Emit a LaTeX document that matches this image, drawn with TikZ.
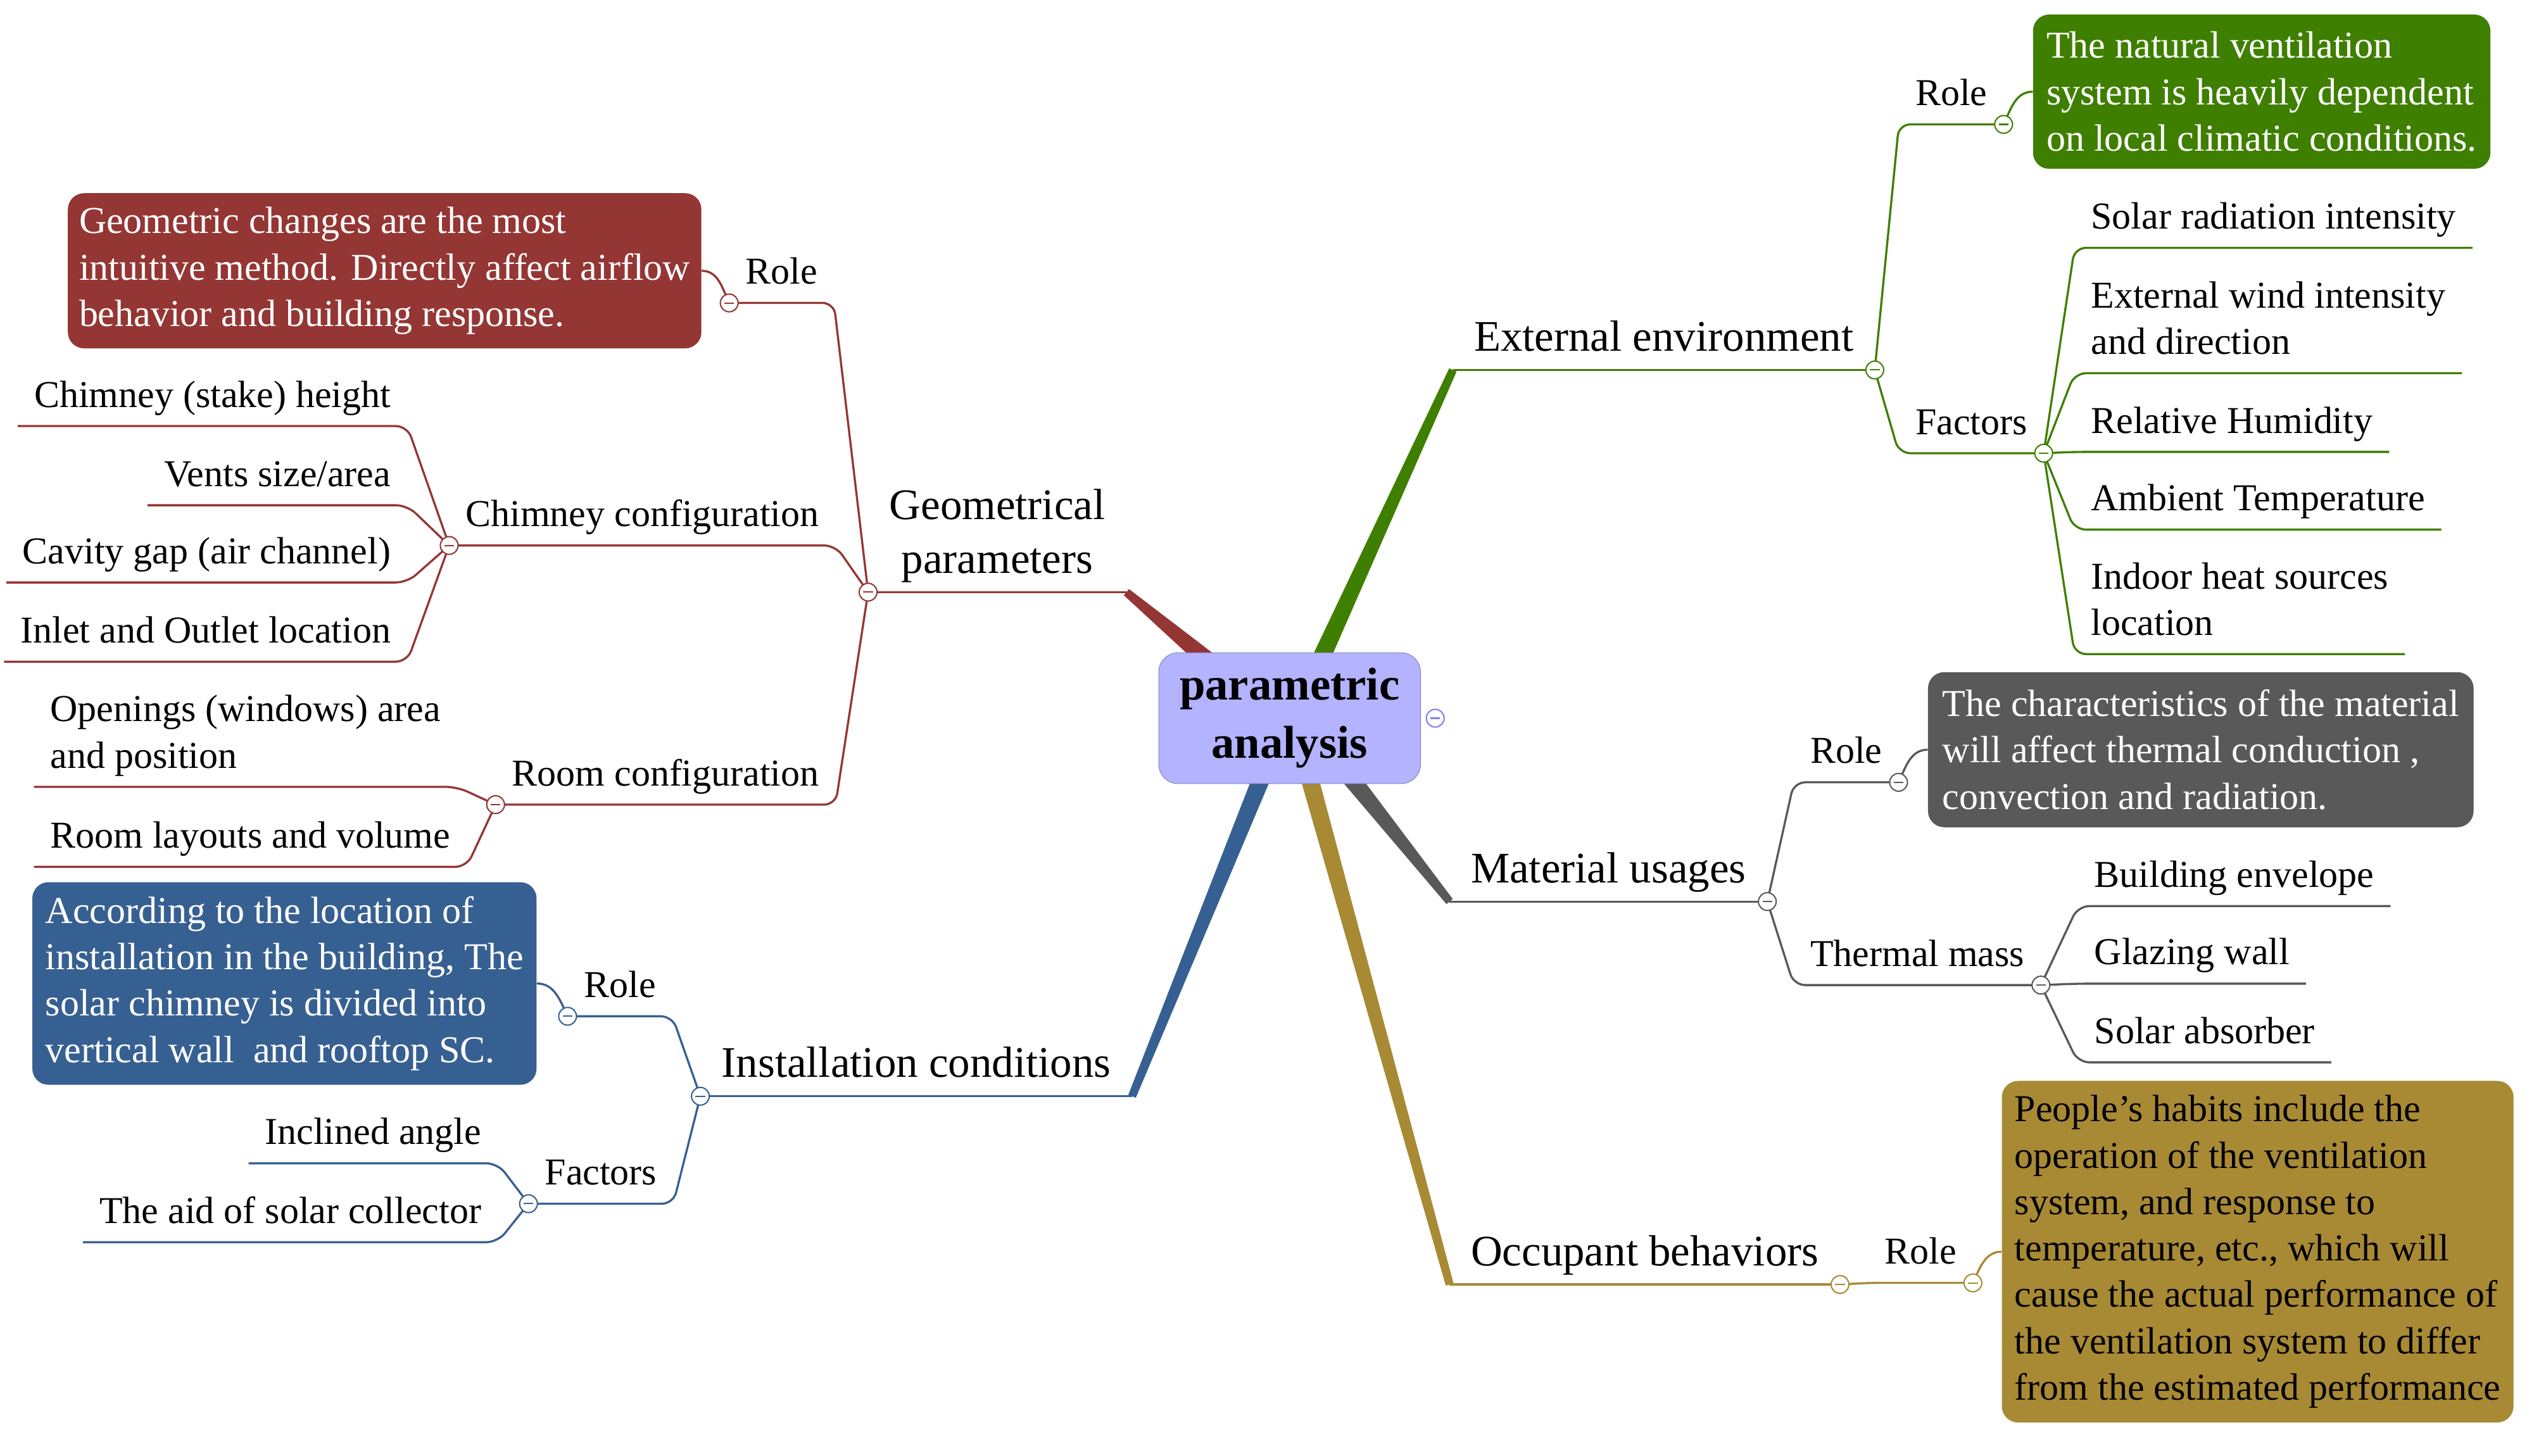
\documentclass[tikz,border=0pt]{standalone}
\usepackage{fontspec}
\setmainfont{Liberation Serif}
\usetikzlibrary{positioning,calc}

\definecolor{geoC}{HTML}{943634}
\definecolor{extC}{HTML}{3F7F00}
\definecolor{matC}{HTML}{595959}
\definecolor{occC}{HTML}{A88A34}
\definecolor{insC}{HTML}{376092}
\definecolor{hubC}{HTML}{B3B3FF}
\newcommand{\ulgap}{\rule[-11.5pt]{0pt}{11.5pt}}

\begin{document}
\begin{tikzpicture}[x=1pt, y=-1pt,
  hub/.style={draw=hubC!75!black, fill=hubC, rounded corners=12pt, minimum width=162pt, minimum height=81pt, align=center, font=\fontsize{28.5}{36}\selectfont\bfseries},
  main/.style={inner xsep=13pt, inner ysep=0pt, align=center, font=\fontsize{27}{33.5}\selectfont, execute at end node=\ulgap},
  topic/.style={inner xsep=10pt, inner ysep=0pt, align=left, font=\fontsize{23.5}{28.7}\selectfont, execute at end node=\ulgap},
  note/.style={fill=#1, text=white, rounded corners=10pt, inner sep=0pt, align=left, font=\fontsize{23.5}{28.7}\selectfont},
  ln/.style={draw=#1, line width=1.3pt, rounded corners=7pt},
  knob/.style={circle, draw=#1, fill=white, line width=0.8pt, minimum size=11pt, inner sep=0pt,
    path picture={\draw[draw=#1, line width=0.8pt] ([xshift=-3pt]path picture bounding box.center) -- ([xshift=3pt]path picture bounding box.center);}}]
\useasboundingbox (0,0) rectangle (1568,901);

% main branches
\coordinate (c) at (798,444.5);
\node[main, anchor=south east] (geo) at (697,366.5) {Geometrical\\parameters};
\node[main, anchor=south east] (ins) at (700.5,678.5) {Installation conditions};
\node[main, anchor=south west] (ext) at (899,229) {External environment};
\node[main, anchor=south west] (mat) at (897,558) {Material usages};
\node[main, anchor=south west] (occ) at (897,795) {Occupant behaviors};
\coordinate (geoS) at ($(c)+(-51,-36)$);
\coordinate (extS) at ($(c)+(19,-36)$);
\coordinate (insS) at ($(c)+(-17,36)$);
\coordinate (occS) at ($(c)+(12,36)$);
\coordinate (matS) at ($(c)+(37,36)$);
\foreach \s/\e/\col in {geoS/geo.south east/geoC, insS/ins.south east/insC, extS/ext.south west/extC, matS/mat.south west/matC, occS/occ.south west/occC}
  \fill[fill=\col] ($(\s)!5.5pt!90:(\e)$) -- ($(\e)!2.5pt!-90:(\s)$) -- ($(\e)!2.5pt!90:(\s)$) -- ($(\s)!5.5pt!-90:(\e)$) -- cycle;
\foreach \n/\col in {geo/geoC, ins/insC, ext/extC, mat/matC, occ/occC}
  \draw[ln=\col] (\n.south west) -- (\n.south east);
\node[hub] (hub) at (c) {parametric\\analysis};
\node[knob=hubC!70!blue, right=3pt of hub] (hubK) {};

% geometrical parameters
\node[topic, anchor=south east] (geoRole) at (516,187.5) {Role};
\node[topic, anchor=south east] (geoChim) at (517,337.6) {Chimney configuration};
\node[topic, anchor=south east] (geoRoom) at (517,498) {Room configuration};
\foreach \n in {geoRole, geoChim, geoRoom}
  \draw[ln=geoC] (geo.south west) -- (\n.south east) -- (\n.south west);
\node[note=geoC, minimum width=392pt, minimum height=96pt] (geoNote) at (238,167.6) {Geometric changes are the most\\intuitive method. Directly affect airflow\\behavior and building response.};
\draw[ln=geoC] (geoRole.south west) to[out=115, in=0] (geoNote.east);
\foreach \n/\y/\t in {ch1/263.7/{Chimney (stake) height}, ch2/312.7/{Vents size/area}, ch3/360.5/{Cavity gap (air channel)}, ch4/409.5/{Inlet and Outlet location}} {
  \node[topic, anchor=south east] (\n) at (252,\y) {\t};
  \draw[ln=geoC] (geoChim.south west) -- (\n.south east) -- (\n.south west);
}
\node[topic, anchor=south west] (rm1) at (21,487) {Openings (windows) area\\and position};
\node[topic, anchor=south west] (rm2) at (21,536.5) {Room layouts and volume};
\foreach \n in {rm1, rm2}
  \draw[ln=geoC] (geoRoom.south west) -- (\n.south east) -- (\n.south west);

% installation conditions
\node[topic, anchor=south east] (insRole) at (416,629) {Role};
\node[topic, anchor=south east] (insFac) at (416.6,745) {Factors};
\foreach \n in {insRole, insFac}
  \draw[ln=insC] (ins.south west) -- (\n.south east) -- (\n.south west);
\node[note=insC, minimum width=312pt, minimum height=125.4pt] (insNote) at (176,608.7) {According to the location of\\installation in the building, The\\solar chimney is divided into\\vertical wall\ \ and rooftop SC.};
\draw[ln=insC] (insRole.south west) to[out=115, in=0] (insNote.east);
\node[topic, anchor=south east] (fa1) at (308,720) {Inclined angle};
\node[topic, anchor=south east] (fa2) at (308,768.8) {The aid of solar collector};
\foreach \n in {fa1, fa2}
  \draw[ln=insC] (insFac.south west) -- (\n.south east) -- (\n.south west);

% external environment
\node[topic, anchor=south west] (extRole) at (1175,77) {Role};
\node[topic, anchor=south west] (extFac) at (1175,280.5) {Factors};
\foreach \n in {extRole, extFac}
  \draw[ln=extC] (ext.south east) -- (\n.south west) -- (\n.south east);
\node[note=extC, minimum width=283pt, minimum height=95.5pt] (extNote) at (1399.5,56.75) {The natural ventilation\\system is heavily dependent\\on local climatic conditions.};
\draw[ln=extC] (extRole.south east) to[out=65, in=180] (extNote.west);
\foreach \n/\y/\t in {ef1/153.4/{Solar radiation intensity}, ef2/231/{External wind intensity\\and direction}, ef3/279.7/{Relative Humidity}, ef4/327.8/{Ambient Temperature}, ef5/404.8/{Indoor heat sources\\location}} {
  \node[topic, anchor=south west] (\n) at (1283.7,\y) {\t};
  \draw[ln=extC] (extFac.south east) -- (\n.south west) -- (\n.south east);
}

% material usages
\node[topic, anchor=south west] (matRole) at (1110,484.2) {Role};
\node[topic, anchor=south west] (matTher) at (1110,609.7) {Thermal mass};
\foreach \n in {matRole, matTher}
  \draw[ln=matC] (mat.south east) -- (\n.south west) -- (\n.south east);
\node[note=matC, minimum width=337.6pt, minimum height=96pt] (matNote) at (1361.8,464) {The characteristics of the material\\will affect thermal conduction ,\\convection and radiation.};
\draw[ln=matC] (matRole.south east) to[out=65, in=180] (matNote.west);
\foreach \n/\y/\t in {tm1/560.8/{Building envelope}, tm2/608.8/{Glazing wall}, tm3/657.5/{Solar absorber}} {
  \node[topic, anchor=south west] (\n) at (1285.8,\y) {\t};
  \draw[ln=matC] (matTher.south east) -- (\n.south west) -- (\n.south east);
}

% occupant behaviors
\node[topic, anchor=south west] (occRole) at (1156,794) {Role};
\draw[ln=occC] (occ.south east) -- (occRole.south west) -- (occRole.south east);
\node[note=occC, text=black, minimum width=316.6pt, minimum height=211.4pt] (occNote) at (1397,774.7) {People’s habits include the\\operation of the ventilation\\system, and response to\\temperature, etc., which will\\cause the actual performance of\\the ventilation system to differ\\from the estimated performance};
\draw[ln=occC] (occRole.south east) to[out=65, in=180] (occNote.west);

% collapse knobs
\foreach \p/\col [count=\i] in {geo.south west/geoC, geoRole.south west/geoC, geoChim.south west/geoC, geoRoom.south west/geoC, ins.south west/insC, insRole.south west/insC, insFac.south west/insC, ext.south east/extC, extRole.south east/extC, extFac.south east/extC, mat.south east/matC, matRole.south east/matC, matTher.south east/matC, occ.south east/occC, occRole.south east/occC}
  \node[knob=\col] (k\i) at (\p) {};
\end{tikzpicture}
\end{document}
